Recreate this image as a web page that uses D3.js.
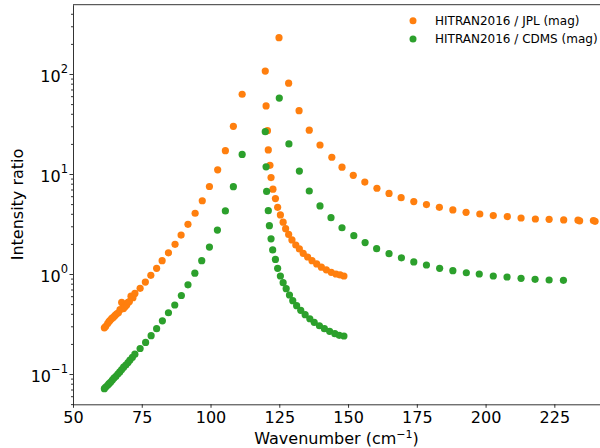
<!DOCTYPE html>
<html>
<head>
<meta charset="utf-8">
<script src="https://cdn.jsdelivr.net/npm/d3@7"></script>
<style>
  html, body { margin: 0; padding: 0; background: #fff; }
  svg { display: block; font-family: "DejaVu Sans", sans-serif; }
</style>
</head>
<body>
<div id="chart"></div>
<script>
// HITRAN2016 / JPL (mag) -- wavenumber (cm-1) and intensity ratio
var jplWavenumber = [
  61.4, 61.9, 62.6, 63.1, 63.5, 64.1, 64.7, 65.3, 65.9, 66.5, 67.1, 67.7, 68.3, 68.9, 69.5, 70.0, 70.5, 71.1, 71.8, 72.5,
  74.4, 76.3, 78.3, 80.4, 82.4, 84.7, 87.1, 89.3, 91.8, 94.4, 97.0, 99.6, 102.6, 105.4, 108.3, 111.5,
  119.9, 120.2, 120.7, 121.0, 121.6, 122.0, 122.7, 123.6, 124.4, 125.4, 126.4, 127.3, 128.4, 129.6, 131.0, 132.3,
  133.7, 135.3, 136.9, 138.6, 140.3, 142.1, 143.9, 145.6, 147.1, 148.5,
  124.9, 128.4, 132.2, 135.9, 139.8, 144.1, 147.8, 151.9, 156.1, 160.5, 164.9, 169.3, 173.9, 178.5, 183.2, 188.1,
  192.9, 197.9, 202.8, 207.9, 212.9, 218.1, 223.1, 228.4, 233.6, 234.2, 239.2, 239.8
];
var jplRatio = [
  0.29, 0.30, 0.32, 0.335, 0.345, 0.36, 0.37, 0.385, 0.40, 0.41, 0.44, 0.52, 0.45, 0.47, 0.49, 0.52, 0.53, 0.60, 0.58, 0.64,
  0.72, 0.83, 0.97, 1.14, 1.36, 1.63, 1.98, 2.45, 3.14, 4.05, 5.4, 7.5, 11.0, 17.1, 30, 62.7,
  107, 47.9, 27.1, 17.4, 12.2, 9.2, 7.05, 5.68, 4.64, 3.9, 3.3, 2.84, 2.49, 2.19, 1.95, 1.78,
  1.61, 1.48, 1.36, 1.26, 1.17, 1.10, 1.04, 1.0, 0.98, 0.955,
  231, 81, 43, 27.4, 19.5, 14.7, 11.7, 9.7, 8.3, 7.2, 6.4, 5.8, 5.3, 4.95, 4.64, 4.37,
  4.14, 3.98, 3.84, 3.75, 3.63, 3.55, 3.52, 3.47, 3.45, 3.40, 3.42, 3.36
];

// HITRAN2016 / CDMS (mag)
var cdmsWavenumber = [
  61.4, 61.9, 62.6, 63.1, 63.7, 64.3, 64.9, 65.6, 66.3, 67.0, 67.7, 68.4, 69.2, 70.0, 70.7, 71.6, 72.5,
  74.4, 76.4, 78.4, 80.4, 82.5, 84.7, 87.0, 89.4, 91.8, 94.3, 96.8, 99.6, 102.5, 105.4, 108.3, 111.5,
  119.9, 120.2, 120.4, 121.0, 121.4, 122.0, 122.6, 123.6, 124.4, 125.4, 126.4, 127.5, 128.7, 129.9, 131.3, 132.8,
  134.4, 136.1, 137.7, 139.6, 141.4, 143.3, 145.2, 146.8, 148.5,
  125.0, 128.5, 132.3, 135.9, 139.8, 143.8, 147.8, 152.1, 156.2, 160.4, 164.9, 169.4, 173.9, 178.5, 183.3, 188.1,
  193.0, 197.7, 202.8, 207.8, 212.9, 218.0, 223.1, 228.3
];
var cdmsRatio = [
  0.0713, 0.074, 0.077, 0.080, 0.083, 0.087, 0.091, 0.095, 0.100, 0.105, 0.111, 0.117, 0.123, 0.130, 0.138, 0.147, 0.158,
  0.18, 0.207, 0.242, 0.284, 0.34, 0.41, 0.49, 0.61, 0.78, 1.02, 1.36, 1.86, 2.75, 4.27, 7.47, 15.7,
  26.5, 11.8, 6.7, 4.3, 3.04, 2.25, 1.74, 1.40, 1.14, 0.955, 0.82, 0.713, 0.617, 0.541, 0.482, 0.433,
  0.392, 0.357, 0.329, 0.304, 0.284, 0.267, 0.253, 0.244, 0.24,
  57.5, 20, 10.7, 6.76, 4.79, 3.66, 2.9, 2.42, 2.06, 1.79, 1.6, 1.45, 1.32, 1.23, 1.14, 1.08,
  1.03, 1.0, 0.955, 0.933, 0.905, 0.885, 0.871, 0.865
];

var xTicks = [50, 75, 100, 125, 150, 175, 200, 225];
var yTicks = [0.1, 1, 10, 100];
var yTickExponents = ["\u22121", "0", "1", "2"];
var seriesNames = ["HITRAN2016 / JPL (mag)", "HITRAN2016 / CDMS (mag)"];
var seriesColors = ["#ff7f0e", "#2ca02c"];

var width = 600, height = 448;
var margin = {top: 4.7, right: 0, bottom: 43.7, left: 73};

var svg = d3.select("#chart")
  .append("svg")
    .attr("width", width)
    .attr("height", height);

var x = d3.scaleLinear()
          .domain([50, 241.6])
          .range([margin.left, width - margin.right]);
var y = d3.scaleLog()
          .domain([0.0498, 493])
          .range([height - margin.bottom, margin.top]);

// points, jpl first so cdms sits on top
var series = [
  {x: jplWavenumber, y: jplRatio},
  {x: cdmsWavenumber, y: cdmsRatio}
];
var plot = svg.append("g");
series.forEach(function (s, i) {
  plot.append("g")
    .selectAll("circle")
    .data(d3.range(s.x.length))
    .join("circle")
      .attr("cx", (k) => x(s.x[k]))
      .attr("cy", (k) => y(s.y[k]))
      .attr("r", 3.6)
      .attr("fill", seriesColors[i]);
});

// x axis
var xAxis = svg.append("g")
  .attr("transform", "translate(0," + (height - margin.bottom) + ")")
  .call(d3.axisBottom(x).tickValues(xTicks).tickSize(3.5).tickPadding(3.5).tickSizeOuter(0));
xAxis.selectAll("text").attr("font-size", 16).attr("font-family", "DejaVu Sans").attr("fill", "#000");

// y minor ticks
var minor = [];
[0.01, 0.1, 1, 10, 100].forEach(function (d) {
  for (var k = 2; k < 10; k++) {
    var v = d * k;
    if (v >= y.domain()[0] && v <= y.domain()[1]) minor.push(v);
  }
});
svg.append("g")
  .attr("transform", "translate(" + margin.left + ",0)")
  .call(d3.axisLeft(y).tickValues(minor).tickSize(2).tickFormat("").tickSizeOuter(0))
  .call(g => g.select(".domain").remove());

// y axis with 10^n labels
var yAxis = svg.append("g")
  .attr("transform", "translate(" + margin.left + ",0)")
  .call(d3.axisLeft(y).tickValues(yTicks).tickSize(3.5).tickFormat("").tickSizeOuter(0));
yAxis.selectAll(".tick").each(function (d, i) {
  var t = d3.select(this).append("text")
    .attr("x", -5)
    .attr("dy", "0.47em")
    .attr("fill", "#000")
    .attr("text-anchor", "end")
    .attr("font-size", 16)
    .attr("font-family", "DejaVu Sans");
  t.append("tspan").text("10");
  t.append("tspan")
    .attr("font-size", 11.5)
    .attr("dy", "-0.8em")
    .text(yTickExponents[yTicks.indexOf(d)]);
});

svg.selectAll(".domain").attr("stroke", "#000").attr("stroke-width", 0.8);
svg.selectAll(".tick line").attr("stroke", "#000").attr("stroke-width", 0.8);

// top spine
svg.append("line")
  .attr("x1", margin.left).attr("x2", width)
  .attr("y1", margin.top).attr("y2", margin.top)
  .attr("stroke", "#000")
  .attr("stroke-width", 0.8);

// axis labels
var xLabel = svg.append("text")
  .attr("x", (margin.left + width - margin.right) / 2)
  .attr("y", 444)
  .attr("text-anchor", "middle")
  .attr("font-size", 16);
xLabel.append("tspan").text("Wavenumber (cm");
xLabel.append("tspan").attr("font-size", 11).attr("dy", -6).text("\u22121");
xLabel.append("tspan").attr("dy", 6).text(")");

svg.append("text")
  .attr("transform", "translate(22.5," + ((margin.top + height - margin.bottom) / 2) + ") rotate(-90)")
  .attr("text-anchor", "middle")
  .attr("font-size", 16)
  .text("Intensity ratio");

// legend
var legend = svg.append("g")
  .selectAll("g")
  .data(seriesNames)
  .join("g")
    .attr("transform", (d, i) => "translate(413," + (20.7 + i * 18.3) + ")");
legend.append("circle")
  .attr("r", 3.5)
  .attr("fill", (d, i) => seriesColors[i]);
legend.append("text")
  .attr("x", 22)
  .attr("dy", "0.36em")
  .attr("font-size", 12)
  .text(d => d);
</script>
</body>
</html>
